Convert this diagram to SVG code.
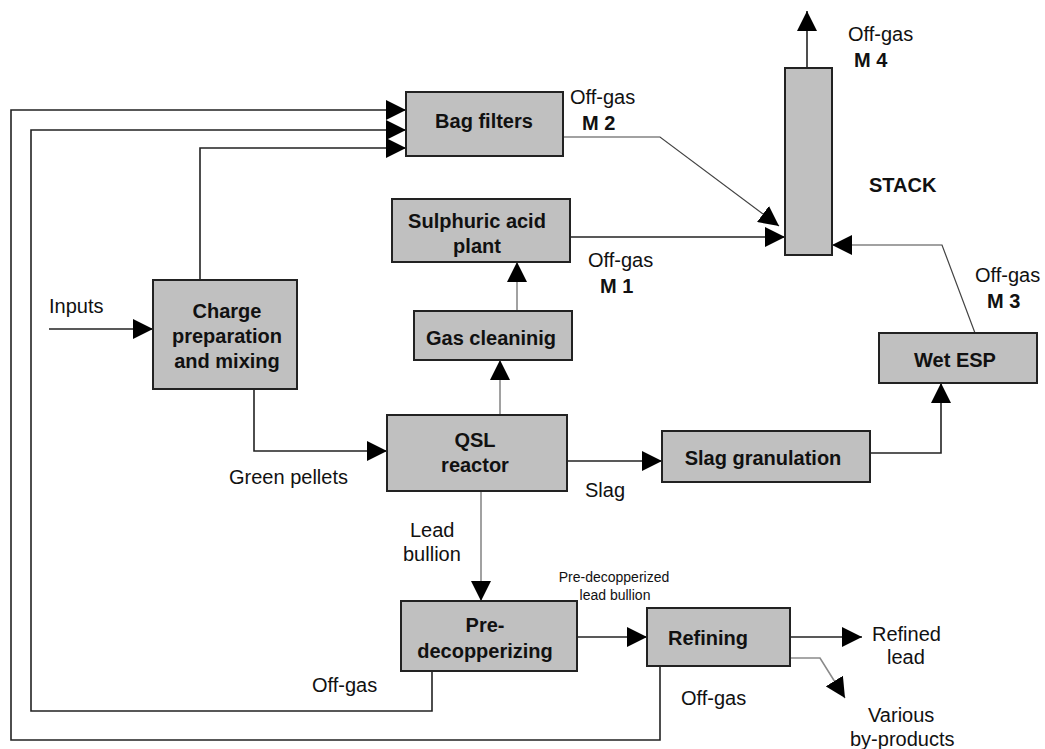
<svg xmlns="http://www.w3.org/2000/svg" width="1045" height="749" viewBox="0 0 1045 749">
<style>
.box{fill:#c0c0c0;stroke:#222;stroke-width:2}
.t{font-family:"Liberation Sans",Arial,sans-serif;font-size:20px;fill:#111}
.b{font-weight:bold}
.c{text-anchor:middle}
.ln{fill:none;stroke:#222;stroke-width:1.6}
.gr{fill:none;stroke:#8a8a8a;stroke-width:1.6}
.thin{fill:none;stroke:#444;stroke-width:1.2}
</style>
<defs>
<marker id="ah" markerUnits="userSpaceOnUse" markerWidth="20" markerHeight="20" viewBox="0 0 20 20" refX="20" refY="10" orient="auto">
<path d="M0,0 L20,10 L0,20 z" fill="#000"/>
</marker>
</defs>
<rect width="1045" height="749" fill="#fff"/>
<g id="connectors">
<path class="ln" d="M49,329 H153" marker-end="url(#ah)"/>
<path class="ln" d="M200,280 V148 H406" marker-end="url(#ah)"/>
<path class="ln" d="M254,389 V451 H387" marker-end="url(#ah)"/>
<path class="gr" d="M500,415 V360" marker-end="url(#ah)"/>
<path class="gr" d="M517,311 V262" marker-end="url(#ah)"/>
<path class="ln" d="M570,237 H785" marker-end="url(#ah)"/>
<path class="thin" d="M563,137 H660 L779,226" marker-end="url(#ah)"/>
<path class="ln" d="M807,68 V11" marker-end="url(#ah)"/>
<path class="ln" d="M567,461 H662" marker-end="url(#ah)"/>
<path class="ln" d="M870,453 H941 V383" marker-end="url(#ah)"/>
<path class="thin" d="M975,333 L942,245 H832" marker-end="url(#ah)"/>
<path class="gr" d="M481,491 V601" marker-end="url(#ah)"/>
<path class="ln" d="M577,637 H647" marker-end="url(#ah)"/>
<path class="ln" d="M790,637 H862" marker-end="url(#ah)"/>
<path class="gr" d="M790,658 H820 L845,698" marker-end="url(#ah)"/>
<path class="ln" d="M432,671 V711 H31 V130 H406" marker-end="url(#ah)"/>
<path class="ln" d="M660,666 V740 H11 V110 H406" marker-end="url(#ah)"/>
</g>
<g id="bag-filters">
<rect class="box" x="406" y="92" width="157" height="64"/>
<text class="t b c" x="484" y="128">Bag filters</text>
</g>
<g id="stack">
<rect class="box" x="785" y="68" width="47" height="187"/>
<text class="t b" x="869" y="192">STACK</text>
</g>
<g id="sulphuric-acid-plant">
<rect class="box" x="392" y="199" width="178" height="63"/>
<text class="t b c" x="477" y="228">Sulphuric acid</text>
<text class="t b c" x="477" y="253">plant</text>
</g>
<g id="gas-cleaning">
<rect class="box" x="414" y="311" width="158" height="49"/>
<text class="t b c" x="491" y="345">Gas cleaninig</text>
</g>
<g id="charge-preparation">
<rect class="box" x="153" y="280" width="144" height="109"/>
<text class="t b c" x="227" y="318">Charge</text>
<text class="t b c" x="227" y="343">preparation</text>
<text class="t b c" x="227" y="368">and mixing</text>
</g>
<g id="qsl-reactor">
<rect class="box" x="387" y="415" width="180" height="76"/>
<text class="t b c" x="475" y="447">QSL</text>
<text class="t b c" x="475" y="472">reactor</text>
</g>
<g id="slag-granulation">
<rect class="box" x="662" y="431" width="208" height="51"/>
<text class="t b c" x="763" y="465">Slag granulation</text>
</g>
<g id="wet-esp">
<rect class="box" x="879" y="333" width="158" height="50"/>
<text class="t b c" x="955" y="367">Wet ESP</text>
</g>
<g id="pre-decopperizing">
<rect class="box" x="401" y="601" width="176" height="70"/>
<text class="t b c" x="485" y="632">Pre-</text>
<text class="t b c" x="485" y="658">decopperizing</text>
</g>
<g id="refining">
<rect class="box" x="647" y="608" width="143" height="58"/>
<text class="t b" x="668" y="645">Refining</text>
</g>
<g id="labels">
<text class="t" x="49" y="313">Inputs</text>
<text class="t" x="229" y="484">Green pellets</text>
<text class="t" x="312" y="692">Off-gas</text>
<text class="t" x="410" y="537">Lead</text>
<text class="t" x="403" y="561">bullion</text>
<text class="t" x="585" y="497">Slag</text>
<text class="t c" x="614" y="582" style="font-size:14px">Pre-decopperized</text>
<text class="t c" x="615" y="600" style="font-size:14px">lead bullion</text>
<text class="t" x="681" y="705">Off-gas</text>
<text class="t" x="872" y="641">Refined</text>
<text class="t" x="887" y="664">lead</text>
<text class="t" x="868" y="722">Various</text>
<text class="t" x="850" y="746">by-products</text>
<text class="t" x="848" y="41">Off-gas</text>
<text class="t b" x="854" y="67">M 4</text>
<text class="t" x="570" y="104">Off-gas</text>
<text class="t b" x="582" y="130">M 2</text>
<text class="t" x="588" y="267">Off-gas</text>
<text class="t b" x="600" y="293">M 1</text>
<text class="t" x="975" y="282">Off-gas</text>
<text class="t b" x="987" y="308">M 3</text>
</g>
</svg>
